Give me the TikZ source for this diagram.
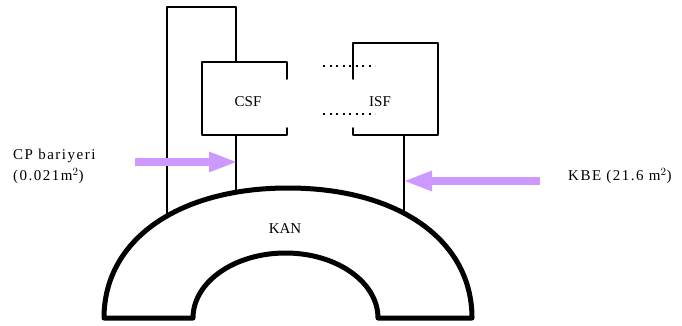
\documentclass[tikz,border=0pt]{standalone}
\usepackage{fontspec}
\setmainfont{Liberation Serif}
\newfontfamily\widefont[LetterSpace=10]{Liberation Serif}
\usetikzlibrary{arrows.meta}
\definecolor{arrowpurple}{RGB}{204,153,255}
\tikzset{
  wall/.style={line width=1.8pt, line join=round, line cap=round},
  dotline/.style={line width=2pt, dash pattern=on 2pt off 4.5pt},
  archline/.style={line width=5pt, line join=round},
  lbl/.style={font=\fontsize{15}{17}\selectfont, inner sep=0pt},
  sidelbl/.style={font=\fontsize{15}{17}\selectfont\widefont, inner sep=0pt, anchor=west},
  fatarrow/.style={draw=arrowpurple, line width=8pt, -{Triangle[length=27pt,width=21pt,line width=0pt]}}
}
\begin{document}
\begin{tikzpicture}[x=1pt,y=-1pt]
\useasboundingbox (0,0) rectangle (682,326);
% coordinates
\coordinate (tl) at (167,7);
\coordinate (tr) at (236,7);
% tall left loop
\draw[wall] (167,222) -- (tl) -- (tr) -- (236,62);
% CSF box (open on right)
\draw[wall] (287,79) -- (287,62) -- (202,62) -- (202,135) -- (287,135) -- (287,128);
% line from CSF down to arch
\draw[wall] (236,135) -- (236,195);
% ISF box (open on left)
\draw[wall] (353,79) -- (353,43) -- (438,43) -- (438,135) -- (353,135) -- (353,128);
% ISF down
\draw[wall] (404,135) -- (404,222);
% dotted connections
\draw[dotline] (323,66) -- (375,66);
\draw[dotline] (323,114) -- (375,114);
% arch
\draw[archline, fill=white] (104,318)
  .. controls (104,240) and (178,188) .. (288,188)
  .. controls (398,188) and (472,240) .. (472,318)
  -- (378,318) arc[start angle=360, end angle=180, x radius=92.5, y radius=65] -- cycle;
% labels
\node[lbl] (csf) at (248,102) {CSF};
\node[lbl] (isf) at (380,102) {ISF};
\node[lbl] (kan) at (285,229) {KAN};
\node[sidelbl] (cp) at (13,156) {CP bariyeri};
\node[sidelbl] (cpa) at (13,176) {(0.021m$^{2}$)};
\node[sidelbl] (kbe) at (568,176) {KBE (21.6 m$^{2}$)};
% arrows
\coordinate (cpstart) at (135,162);
\coordinate (cpend) at (236,162);
\coordinate (kbestart) at (540,181);
\coordinate (kbeend) at (405,181);
\draw[fatarrow] (cpstart) -- (cpend);
\draw[fatarrow] (kbestart) -- (kbeend);
\end{tikzpicture}
\end{document}
